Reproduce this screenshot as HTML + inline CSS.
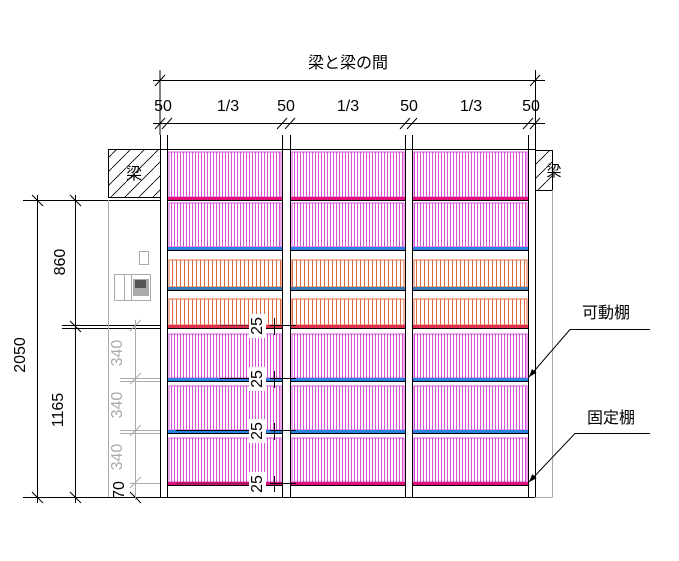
<!DOCTYPE html>
<html><head><meta charset="utf-8"><style>html,body{margin:0;padding:0;background:#fff}svg{display:block}text{font-family:"Liberation Sans","Noto Sans CJK JP",sans-serif}</style></head><body>
<svg width="679" height="561" viewBox="0 0 679 561" xmlns="http://www.w3.org/2000/svg">
<defs>
<pattern id="pk" width="3" height="10" patternUnits="userSpaceOnUse"><rect width="3" height="10" fill="#fff"/><line x1="0.5" y1="0" x2="0.5" y2="10" stroke="#d850d8" stroke-width="1"/></pattern>
<pattern id="or" width="4" height="10" patternUnits="userSpaceOnUse"><rect width="4" height="10" fill="#fff"/><line x1="0.5" y1="0" x2="0.5" y2="10" stroke="#e06a40" stroke-width="1"/></pattern>
<pattern id="ht" width="14" height="14" patternUnits="userSpaceOnUse"><line x1="0" y1="14" x2="14" y2="0" stroke="#000" stroke-width="0.8"/></pattern>
<marker id="ar" markerWidth="8" markerHeight="6" refX="8" refY="3" orient="auto"><path d="M0,0 L8,3 L0,6z" fill="#000"/></marker>
</defs>
<g id="bays"></g>
<script>
(function(){
var ns="http://www.w3.org/2000/svg",g=document.getElementById("bays");
function r(x,y,w,h,f,s){var e=document.createElementNS(ns,"rect");e.setAttribute("x",x);e.setAttribute("y",y);e.setAttribute("width",w);e.setAttribute("height",h);e.setAttribute("fill",f);if(s){e.setAttribute("stroke",s);e.setAttribute("stroke-width","1");}g.appendChild(e);}
var bays=[[168,282],[291,405],[413,528]];
var rows=[[152,45,"pk","#d850d8","#e0107a"],[203,44,"pk","#d850d8","#2a80e0"],[260,27,"or","#e06a40","#3a7ab0"],[299,26,"or","#e06a40","#e03050"],[334,44,"pk","#d850d8","#2a80e0"],[386,44,"pk","#d850d8","#2a80e0"],[438,44,"pk","#d850d8","#e0107a"]];
bays.forEach(function(b){rows.forEach(function(rw){r(b[0]+1,rw[0],b[1]-b[0]-2,rw[1],"url(#"+rw[2]+")",rw[3]);r(b[0],rw[0]+rw[1],b[1]-b[0],3,rw[4]);r(b[0],rw[0]+rw[1]+3,b[1]-b[0],1,"#000");});});
})();
</script>
<g stroke="#000" stroke-width="1" fill="none">
<line x1="160.5" y1="135" x2="160.5" y2="498"/><line x1="167.5" y1="135" x2="167.5" y2="498"/>
<line x1="282.5" y1="135" x2="282.5" y2="498"/><line x1="290.5" y1="135" x2="290.5" y2="498"/>
<line x1="405.5" y1="135" x2="405.5" y2="498"/><line x1="412.5" y1="135" x2="412.5" y2="498"/>
<line x1="528.5" y1="135" x2="528.5" y2="498"/><line x1="535.5" y1="70" x2="535.5" y2="498"/>
<line x1="160" y1="70" x2="160" y2="135"/>
<line x1="160" y1="149.5" x2="535" y2="149.5"/>
<line x1="160" y1="497.5" x2="535" y2="497.5"/>
<line x1="153" y1="80.5" x2="545" y2="80.5"/>
<line x1="153" y1="123.5" x2="545" y2="123.5"/>
<path d="M155,86 L165,75 M530,86 L540,75 M155,129 L165,118 M162,129 L172,118 M277,129 L287,118 M285,129 L295,118 M400,129 L410,118 M407,129 L417,118 M523,129 L533,118 M530,129 L540,118"/>
<rect x="108.5" y="149.5" width="52" height="48" fill="url(#ht)"/>
<rect x="535.5" y="150.5" width="17" height="40" fill="url(#ht)"/>
<line x1="23" y1="200.5" x2="160" y2="200.5"/>
<line x1="62" y1="325.5" x2="160" y2="325.5"/><line x1="62" y1="328.5" x2="160" y2="328.5"/>
<line x1="23" y1="497.5" x2="160" y2="497.5"/>
<line x1="37.5" y1="195" x2="37.5" y2="503"/>
<line x1="75.5" y1="195" x2="75.5" y2="503"/>
<path d="M32,195 L43,206 M70,195 L81,206 M70,321 L81,332 M32,492 L43,503 M70,492 L81,503 M130,492 L141,503"/>
</g>
<g stroke="#aaa" stroke-width="1" fill="none">
<line x1="108.5" y1="200" x2="108.5" y2="497"/>
<line x1="552.5" y1="190" x2="552.5" y2="497.5"/><line x1="535" y1="497.5" x2="552" y2="497.5"/>
<line x1="135.5" y1="320" x2="135.5" y2="500"/>
<line x1="120" y1="378.5" x2="160" y2="378.5"/><line x1="120" y1="381.5" x2="160" y2="381.5"/>
<line x1="120" y1="430.5" x2="160" y2="430.5"/><line x1="120" y1="433.5" x2="160" y2="433.5"/>
<line x1="130" y1="483.5" x2="160" y2="483.5"/>
<path d="M130,331 L141,320 M130,384 L141,373 M130,436 L141,425 M130,488 L141,477"/>
<rect x="139.5" y="251.5" width="9" height="13"/>
<rect x="114.5" y="274.5" width="36" height="26"/>
<line x1="124.5" y1="275" x2="124.5" y2="300"/><line x1="131.5" y1="275" x2="131.5" y2="300"/>
</g>
<rect x="133" y="279" width="16" height="17" fill="#aaa"/><rect x="135" y="280" width="11" height="8" fill="#555"/>
<g stroke="#000" stroke-width="1">
<line x1="270" y1="325.5" x2="296" y2="325.5"/><line x1="270" y1="378.5" x2="296" y2="378.5"/><line x1="270" y1="430.5" x2="296" y2="430.5"/><line x1="270" y1="483.5" x2="296" y2="483.5"/>
<line x1="274.5" y1="318" x2="274.5" y2="335"/><line x1="274.5" y1="371" x2="274.5" y2="388"/><line x1="274.5" y1="423" x2="274.5" y2="440"/><line x1="274.5" y1="476" x2="274.5" y2="492"/>
<line x1="220" y1="325.5" x2="262" y2="325.5" stroke="#802040"/><line x1="220" y1="378.5" x2="262" y2="378.5"/><line x1="176" y1="430.5" x2="262" y2="430.5"/><line x1="176" y1="483.5" x2="262" y2="483.5" stroke="#802040"/>
</g>
<g fill="#fff"><rect x="249" y="314" width="17" height="24"/><rect x="249" y="367" width="17" height="24"/><rect x="249" y="419" width="17" height="24"/><rect x="249" y="472" width="17" height="24"/></g>
<g font-size="16" fill="#000" text-anchor="middle">
<text x="257" y="326" transform="rotate(-90 257 326)" dy="5">25</text>
<text x="257" y="379" transform="rotate(-90 257 379)" dy="5">25</text>
<text x="257" y="431" transform="rotate(-90 257 431)" dy="5">25</text>
<text x="257" y="484" transform="rotate(-90 257 484)" dy="5">25</text>
<text x="348" y="68">梁と梁の間</text>
<text x="163" y="111">50</text><text x="228" y="111">1/3</text><text x="286" y="111">50</text><text x="348" y="111">1/3</text><text x="409" y="111">50</text><text x="471" y="111">1/3</text><text x="531" y="111">50</text>
<text x="134" y="179">梁</text>
<text x="554" y="176" font-size="15">梁</text>
<text x="20" y="355" transform="rotate(-90 20 355)" dy="5">2050</text>
<text x="60" y="262" transform="rotate(-90 60 262)" dy="5">860</text>
<text x="58" y="410" transform="rotate(-90 58 410)" dy="5">1165</text>
<text x="606" y="318">可動棚</text>
<text x="611" y="423">固定棚</text>
</g>
<g font-size="16" fill="#aaa" text-anchor="middle">
<text x="117" y="353" transform="rotate(-90 117 353)" dy="5">340</text>
<text x="117" y="405" transform="rotate(-90 117 405)" dy="5">340</text>
<text x="117" y="457" transform="rotate(-90 117 457)" dy="5">340</text>
<text x="119" y="490" transform="rotate(-90 119 490)" dy="5" fill="#000">70</text>
</g>
<g stroke="#000" stroke-width="1" fill="none">
<polyline points="650,329.5 570,329.5 529,377" marker-end="url(#ar)"/>
<polyline points="650,433.5 575,433.5 529,482" marker-end="url(#ar)"/>
</g>
</svg>
</body></html>
